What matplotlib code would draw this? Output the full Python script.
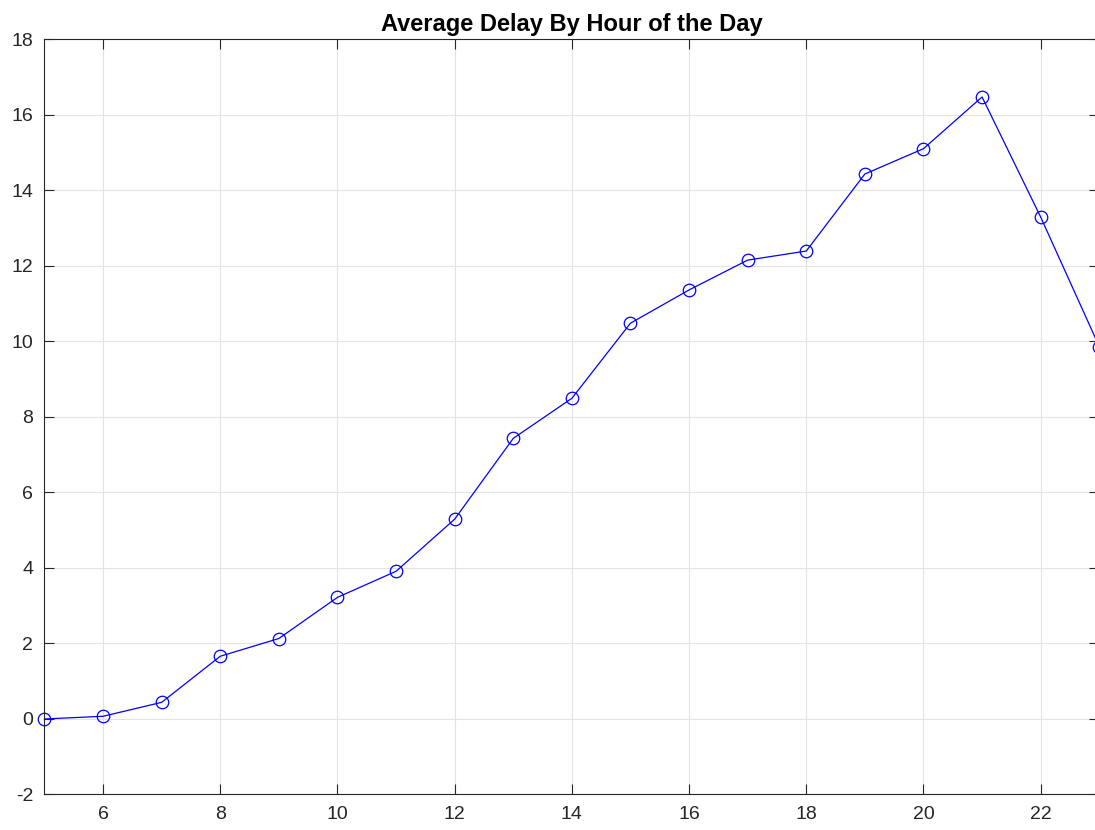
import matplotlib
matplotlib.use("Agg")
import matplotlib.pyplot as plt

# hour of day vs mean delay
hours = [5, 6, 7, 8, 9, 10, 11, 12, 13, 14, 15, 16, 17, 18, 19, 20, 21, 22, 23]
avg_delay = [0.0, 0.07, 0.44, 1.66, 2.13, 3.22, 3.91, 5.29, 7.43, 8.49,
             10.48, 11.36, 12.15, 12.39, 14.43, 15.10, 16.47, 13.29, 9.86]
xticks = [6, 8, 10, 12, 14, 16, 18, 20, 22]
yticks = [-2, 0, 2, 4, 6, 8, 10, 12, 14, 16, 18]

plt.rcParams['font.family'] = ['Liberation Sans', 'DejaVu Sans']
plt.rcParams['axes.unicode_minus'] = False

fig = plt.figure(figsize=(10.95, 8.3), dpi=100)
ax = fig.add_axes([0.0406, 0.0428, 0.9633, 0.910])

ax.plot(hours, avg_delay, color='blue', linewidth=0.9, marker='o',
        markersize=9, markerfacecolor='none', markeredgecolor='blue',
        markeredgewidth=0.9, clip_on=False)

ax.set_xlim(5, 23)
ax.set_ylim(-2, 18)
ax.set_xticks(xticks)
ax.set_yticks(yticks)
ax.grid(True, color='#e3e3e3', linewidth=0.8)
ax.set_axisbelow(True)

ax.tick_params(direction='in', top=True, right=True, length=7, width=0.8,
               labelsize=14, colors='#262626', pad=8)
for s in ax.spines.values():
    s.set_color('#262626')
    s.set_linewidth(0.8)

ax.set_title('Average Delay By Hour of the Day', fontsize=17,
             fontweight='bold', pad=6)

fig.savefig('out.png', dpi=100)
